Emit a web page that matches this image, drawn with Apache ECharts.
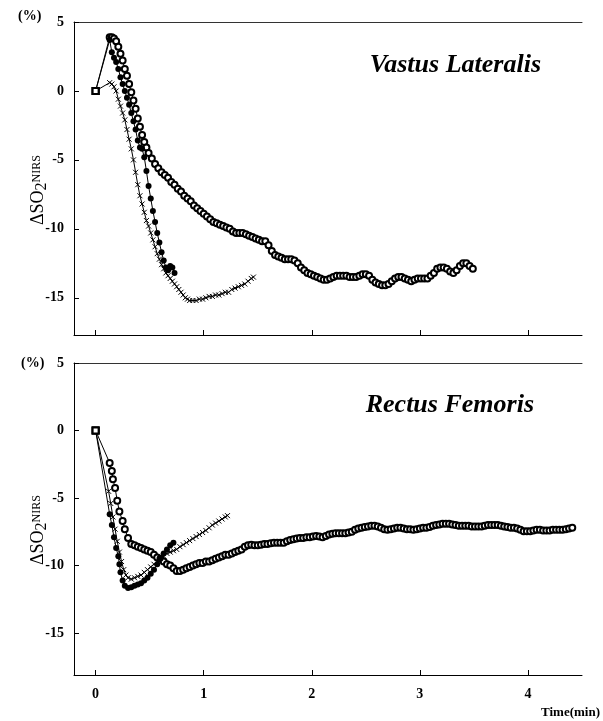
<!DOCTYPE html>
<html>
<head>
<meta charset="utf-8">
<script src="https://cdn.jsdelivr.net/npm/echarts@6/dist/echarts.min.js"></script>
<style>html,body{margin:0;padding:0;background:#fff;}#c{width:603px;height:721px;}</style>
</head>
<body>
<div id="c"></div>
<script>
// ---- Data (time in min, ΔSO2NIRS in %) ----
const xTicks = [0, 1, 2, 3, 4];
const yTicks = [5, 0, -5, -10, -15];

// Vastus Lateralis — open circles
const vlOpenT = [0,0.13,0.15,0.17,0.19,0.21,0.23,0.25,0.27,0.29,0.31,0.33,0.35,0.37,0.39,0.41,0.43,0.45,0.47,0.49,0.52,0.55,0.58,0.61,0.64,0.67,0.70,0.73,0.76,0.79,0.82,0.85,0.88,0.91,0.94,0.97,1.00,1.03,1.06,1.09,1.12,1.15,1.18,1.21,1.24,1.27,1.30,1.33,1.36,1.39,1.42,1.45,1.48,1.51,1.54,1.57,1.60,1.63,1.66,1.69,1.72,1.75,1.78,1.81,1.84,1.87,1.90,1.93,1.96,1.99,2.02,2.05,2.08,2.11,2.14,2.17,2.20,2.23,2.26,2.29,2.32,2.35,2.38,2.41,2.44,2.47,2.50,2.53,2.56,2.59,2.62,2.65,2.68,2.71,2.74,2.77,2.80,2.83,2.86,2.89,2.92,2.95,2.98,3.01,3.04,3.07,3.10,3.13,3.16,3.19,3.22,3.25,3.28,3.31,3.34,3.37,3.40,3.43,3.46,3.49];
const vlOpenV = [0,3.9,3.9,3.8,3.6,3.2,2.7,2.2,1.6,1.1,0.5,-0.1,-0.7,-1.3,-2.0,-2.6,-3.2,-3.7,-4.1,-4.5,-4.9,-5.3,-5.6,-5.9,-6.1,-6.3,-6.6,-6.8,-7.1,-7.3,-7.6,-7.8,-8.0,-8.3,-8.5,-8.7,-8.9,-9.1,-9.3,-9.5,-9.6,-9.7,-9.8,-9.9,-10.0,-10.2,-10.3,-10.3,-10.3,-10.4,-10.5,-10.6,-10.7,-10.8,-10.9,-10.9,-11.2,-11.6,-11.9,-12.0,-12.1,-12.2,-12.2,-12.2,-12.3,-12.5,-12.8,-13.0,-13.2,-13.3,-13.4,-13.5,-13.6,-13.7,-13.7,-13.6,-13.5,-13.4,-13.4,-13.4,-13.4,-13.5,-13.5,-13.5,-13.4,-13.3,-13.3,-13.4,-13.7,-13.9,-14.0,-14.1,-14.1,-14.0,-13.8,-13.6,-13.5,-13.5,-13.6,-13.7,-13.8,-13.7,-13.6,-13.6,-13.6,-13.6,-13.4,-13.2,-12.9,-12.8,-12.8,-12.9,-13.1,-13.2,-13.0,-12.7,-12.5,-12.5,-12.7,-12.9];

// Vastus Lateralis — filled circles
const vlFillT = [0,0.13,0.15,0.17,0.19,0.21,0.23,0.25,0.27,0.29,0.31,0.33,0.35,0.37,0.39,0.41,0.43,0.45,0.47,0.49,0.51,0.53,0.55,0.57,0.59,0.61,0.63,0.65,0.67,0.69,0.71,0.73];
const vlFillV = [0,3.7,2.8,2.4,2.1,1.6,1.0,0.5,0.0,-0.5,-1.0,-1.6,-2.2,-2.8,-3.6,-4.1,-4.2,-4.8,-5.8,-6.9,-7.8,-8.7,-9.5,-10.3,-11.0,-11.7,-12.3,-12.8,-13.0,-12.7,-12.8,-13.2];

// Vastus Lateralis — crosses
const vlCrossT = [0,0.13,0.15,0.17,0.19,0.21,0.23,0.25,0.27,0.29,0.31,0.33,0.35,0.37,0.39,0.41,0.43,0.45,0.47,0.49,0.51,0.53,0.55,0.57,0.59,0.61,0.63,0.65,0.67,0.69,0.71,0.73,0.75,0.77,0.79,0.81,0.83,0.85,0.87,0.90,0.93,0.96,0.99,1.02,1.05,1.08,1.11,1.14,1.17,1.20,1.23,1.26,1.29,1.32,1.35,1.38,1.41,1.44,1.46];
const vlCrossV = [0,0.6,0.5,0.3,0.0,-0.6,-1.1,-1.6,-2.1,-2.8,-3.5,-4.2,-5.0,-5.9,-6.8,-7.6,-8.2,-8.8,-9.4,-9.8,-10.3,-10.8,-11.3,-11.8,-12.2,-12.6,-12.9,-13.2,-13.4,-13.6,-13.8,-14.0,-14.2,-14.4,-14.6,-14.8,-15.0,-15.1,-15.2,-15.2,-15.2,-15.1,-15.1,-15.0,-14.9,-14.9,-14.8,-14.8,-14.7,-14.6,-14.6,-14.4,-14.3,-14.2,-14.1,-14.0,-13.8,-13.6,-13.5];

// Rectus Femoris — open circles
const rfOpenT = [0,0.13,0.15,0.16,0.18,0.20,0.22,0.25,0.27,0.30,0.33,0.36,0.39,0.42,0.45,0.48,0.51,0.54,0.57,0.60,0.63,0.66,0.69,0.72,0.75,0.78,0.81,0.84,0.87,0.90,0.93,0.96,0.99,1.02,1.05,1.08,1.11,1.14,1.17,1.20,1.23,1.26,1.29,1.32,1.35,1.38,1.41,1.44,1.47,1.50,1.53,1.56,1.59,1.62,1.65,1.68,1.71,1.74,1.77,1.80,1.83,1.86,1.89,1.92,1.95,1.98,2.01,2.04,2.07,2.10,2.13,2.16,2.19,2.22,2.25,2.28,2.31,2.34,2.37,2.40,2.43,2.46,2.49,2.52,2.55,2.58,2.61,2.64,2.67,2.70,2.73,2.76,2.79,2.82,2.85,2.88,2.91,2.94,2.97,3.00,3.03,3.06,3.09,3.12,3.15,3.18,3.21,3.24,3.27,3.30,3.33,3.36,3.39,3.42,3.45,3.48,3.51,3.54,3.57,3.60,3.63,3.66,3.69,3.72,3.75,3.78,3.81,3.84,3.87,3.90,3.93,3.96,3.99,4.02,4.05,4.08,4.11,4.14,4.17,4.20,4.23,4.26,4.29,4.32,4.35,4.38,4.41];
const rfOpenV = [0,-2.4,-3.0,-3.6,-4.25,-5.2,-6.0,-6.7,-7.3,-7.95,-8.4,-8.5,-8.6,-8.7,-8.8,-8.9,-9.0,-9.2,-9.4,-9.5,-9.7,-9.9,-10.0,-10.2,-10.4,-10.4,-10.3,-10.2,-10.1,-10.0,-9.9,-9.8,-9.8,-9.7,-9.7,-9.6,-9.5,-9.4,-9.3,-9.2,-9.2,-9.1,-9.0,-8.9,-8.8,-8.6,-8.5,-8.45,-8.5,-8.5,-8.45,-8.4,-8.4,-8.35,-8.3,-8.3,-8.3,-8.3,-8.2,-8.1,-8.05,-8.0,-7.95,-7.95,-7.9,-7.9,-7.85,-7.8,-7.85,-7.9,-7.8,-7.7,-7.65,-7.6,-7.6,-7.6,-7.6,-7.55,-7.5,-7.35,-7.25,-7.2,-7.15,-7.1,-7.05,-7.05,-7.1,-7.2,-7.3,-7.35,-7.3,-7.25,-7.2,-7.2,-7.25,-7.3,-7.3,-7.35,-7.3,-7.25,-7.2,-7.2,-7.15,-7.05,-7.0,-6.95,-6.9,-6.9,-6.9,-6.95,-7.0,-7.05,-7.05,-7.05,-7.05,-7.1,-7.1,-7.1,-7.1,-7.05,-7.0,-7.0,-7.0,-7.0,-7.05,-7.1,-7.15,-7.2,-7.2,-7.25,-7.35,-7.45,-7.45,-7.45,-7.4,-7.35,-7.35,-7.4,-7.4,-7.4,-7.35,-7.35,-7.35,-7.35,-7.3,-7.25,-7.2];

// Rectus Femoris — filled circles
const rfFillT = [0,0.13,0.15,0.17,0.19,0.21,0.22,0.23,0.25,0.27,0.30,0.33,0.36,0.39,0.42,0.45,0.48,0.51,0.54,0.57,0.60,0.63,0.66,0.69,0.72];
const rfFillV = [0,-6.2,-7.0,-7.9,-8.7,-9.3,-9.9,-10.5,-11.1,-11.5,-11.65,-11.6,-11.5,-11.4,-11.3,-11.1,-10.9,-10.6,-10.3,-9.9,-9.5,-9.1,-8.8,-8.5,-8.3];

// Rectus Femoris — crosses
const rfCrossT = [0,0.12,0.14,0.16,0.18,0.20,0.22,0.24,0.26,0.28,0.30,0.33,0.36,0.39,0.42,0.45,0.48,0.51,0.54,0.57,0.60,0.63,0.66,0.69,0.72,0.75,0.78,0.81,0.84,0.87,0.90,0.93,0.96,0.99,1.02,1.05,1.08,1.11,1.14,1.17,1.20,1.22];
const rfCrossV = [0,-4.5,-5.4,-6.4,-7.3,-8.2,-9.0,-9.7,-10.3,-10.7,-10.9,-11.0,-10.9,-10.8,-10.7,-10.5,-10.3,-10.1,-9.9,-9.7,-9.5,-9.3,-9.1,-9.0,-8.9,-8.8,-8.6,-8.45,-8.3,-8.15,-8.0,-7.85,-7.7,-7.55,-7.4,-7.2,-7.0,-6.85,-6.7,-6.55,-6.4,-6.3];

// ---- Chart ----
const serif = '"Liberation Serif","DejaVu Serif",serif';
const crossPath = 'path://M0 0L10 10M10 0L0 10';

function pairs(T, V) {
  return T.map((t, i) => {
    if (i === 0) return { value: [t, V[i]], symbol: 'emptyRect', symbolSize: 6,
      itemStyle: { color: '#000', borderColor: '#000', borderWidth: 1 } };
    return [t, V[i]];
  });
}

function mkSeries(T, V, kind, gi) {
  const base = {
    type: 'line', xAxisIndex: gi * 2, yAxisIndex: gi, data: pairs(T, V),
    showAllSymbol: true, animation: false, silent: true,
    lineStyle: { color: '#000', width: 1 },
    z: kind === 'open' ? 3 : (kind === 'fill' ? 4 : 2)
  };
  if (kind === 'open') {
    base.symbol = 'emptyCircle'; base.symbolSize = 6;
    base.itemStyle = { color: '#000', borderColor: '#000', borderWidth: 1 };
  } else if (kind === 'fill') {
    base.symbol = 'circle'; base.symbolSize = 6;
    base.itemStyle = { color: '#000' };
  } else {
    base.symbol = crossPath; base.symbolSize = 5;
    base.itemStyle = { color: '#000', borderColor: '#000', borderWidth: 1 };
  }
  return base;
}

function xAxes(gi, showLabels) {
  return [{
    type: 'value', gridIndex: gi, min: -0.2, max: 4.5, position: 'bottom',
    axisLine: { show: true, onZero: false, lineStyle: { color: '#000', width: 1 } },
    axisTick: { show: true, inside: true, length: 5, customValues: xTicks, lineStyle: { color: '#000' } },
    axisLabel: { show: showLabels, customValues: xTicks, margin: 12, color: '#000',
      fontFamily: serif, fontWeight: 'bold', fontSize: 14 },
    splitLine: { show: false }
  }, {
    type: 'value', gridIndex: gi, min: -0.2, max: 4.5, position: 'top',
    axisLine: { show: true, onZero: false, lineStyle: { color: '#333', width: 1 } },
    axisTick: { show: false }, axisLabel: { show: false }, splitLine: { show: false }
  }];
}

function yAxis(gi, min) {
  return {
    type: 'value', gridIndex: gi, min: min, max: 5,
    axisLine: { show: true, onZero: false, lineStyle: { color: '#000', width: 1 } },
    axisTick: { show: true, inside: true, length: 5, customValues: yTicks, lineStyle: { color: '#000' } },
    axisLabel: { customValues: yTicks, margin: 10, color: '#000',
      fontFamily: serif, fontWeight: 'bold', fontSize: 14 },
    splitLine: { show: false }
  };
}

const yName = {
  text: '{d|Δ}{s|SO}{t|2}{n|NIRS}',
  rich: {
    d: { fontFamily: serif, fontSize: 18, fill: '#000' },
    s: { fontFamily: serif, fontSize: 18, fill: '#000' },
    t: { fontFamily: serif, fontSize: 16, fill: '#000', padding: [7, 0, 0, 0] },
    n: { fontFamily: serif, fontSize: 12, fill: '#000', padding: [0, 0, 3, 0] }
  }
};

const chart = echarts.init(document.getElementById('c'), null, { renderer: 'canvas' });
chart.setOption({
  backgroundColor: '#fff',
  animation: false,
  grid: [
    { left: 74, top: 22, width: 508, height: 313 },
    { left: 74, top: 363, width: 508, height: 312 }
  ],
  xAxis: [...xAxes(0, false), ...xAxes(1, true)],
  yAxis: [yAxis(0, -17.7), yAxis(1, -18.1)],
  series: [
    mkSeries(vlCrossT, vlCrossV, 'cross', 0),
    mkSeries(vlOpenT, vlOpenV, 'open', 0),
    mkSeries(vlFillT, vlFillV, 'fill', 0),
    mkSeries(rfCrossT, rfCrossV, 'cross', 1),
    mkSeries(rfOpenT, rfOpenV, 'open', 1),
    mkSeries(rfFillT, rfFillV, 'fill', 1)
  ],
  graphic: [
    { type: 'text', x: 541, y: 65, style: { text: 'Vastus Lateralis', font: 'italic bold 26px ' + serif, fill: '#000', align: 'right', verticalAlign: 'middle' } },
    { type: 'text', x: 534, y: 405, style: { text: 'Rectus Femoris', font: 'italic bold 26px ' + serif, fill: '#000', align: 'right', verticalAlign: 'middle' } },
    { type: 'text', left: 18, top: 9, style: { text: '(%)', font: 'bold 14px ' + serif, fill: '#000' } },
    { type: 'text', left: 21, top: 356, style: { text: '(%)', font: 'bold 14px ' + serif, fill: '#000' } },
    { type: 'text', right: 3, top: 706, style: { text: 'Time(min)', font: 'bold 13px ' + serif, fill: '#000' } },
    { type: 'text', x: 38, y: 190, rotation: Math.PI / 2,
      style: Object.assign({ align: 'center', verticalAlign: 'middle' }, yName) },
    { type: 'text', x: 38, y: 530, rotation: Math.PI / 2,
      style: Object.assign({ align: 'center', verticalAlign: 'middle' }, yName) }
  ]
});
</script>
</body>
</html>
